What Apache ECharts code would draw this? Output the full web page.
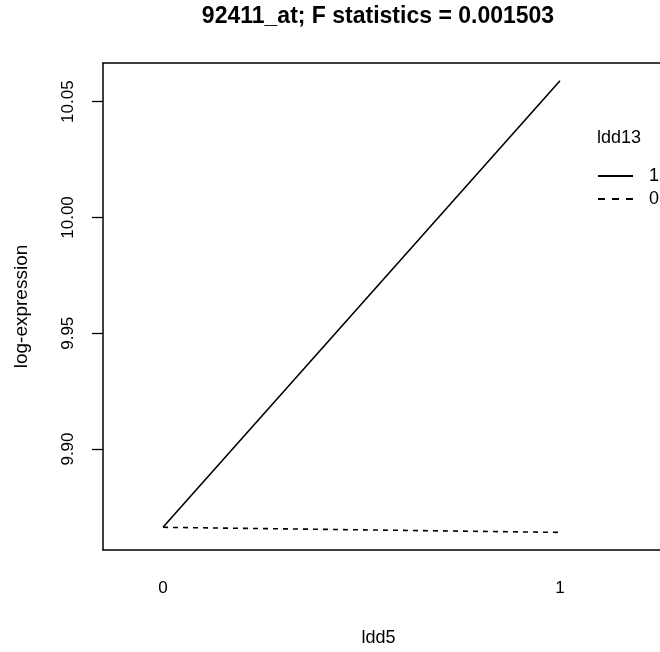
<!DOCTYPE html>
<html>
<head>
<meta charset="utf-8">
<script src="https://cdn.jsdelivr.net/npm/echarts@6/dist/echarts.min.js"></script>
<style>
  html, body { margin: 0; padding: 0; background: #fff; }
  #main { width: 660px; height: 652px; }
</style>
</head>
<body>
<div id="main"></div>
<script>
// ldd5 levels on x (plotted at positions 1, 2 like R's interaction.plot)
var ldd5Levels = ['0', '1'];
var seriesNames = ['1', '0'];
var exprLdd13_1 = [9.8662, 10.0590];
var exprLdd13_0 = [9.8662, 9.8640];
var yTicks = [9.90, 9.95, 10.00, 10.05];
var xTicks = [1, 2];

function pairs(ys) {
  var out = [];
  for (var i = 0; i < ys.length; i++) out.push([i + 1, ys[i]]);
  return out;
}

var font = '"Liberation Sans", Arial, sans-serif';
var xMin = 0.8489, xMax = 2.2519;
var yMin = 9.8564, yMax = 10.0667;
var chart = echarts.init(document.getElementById('main'));

chart.setOption({
  backgroundColor: '#fff',
  animation: false,
  title: [
    {
      text: '92411_at; F statistics = 0.001503',
      left: 378, top: 5, padding: 0, textAlign: 'center',
      textStyle: { fontFamily: font, fontSize: 23, fontWeight: 'bold', color: '#000' }
    },
    {
      text: 'ldd13',
      left: 597, top: 129, padding: 0,
      textStyle: { fontFamily: font, fontSize: 18, fontWeight: 'normal', color: '#000' }
    }
  ],
  legend: {
    orient: 'vertical',
    left: 598, top: 167, padding: 0,
    itemWidth: 35, itemHeight: 2, itemGap: 5,
    data: [
      { name: seriesNames[0], icon: 'path://M0,0h35v2h-35z' },
      { name: seriesNames[1], icon: 'path://M0,0h7v2h-7z M14,0h7v2h-7z M28,0h7v2h-7z' }
    ],
    textStyle: { fontFamily: font, fontSize: 18, color: '#000', padding: [0, 0, 0, 11] }
  },
  grid: {
    left: 103, right: 0, top: 63, bottom: 97,
    show: false, containLabel: false
  },
  xAxis: [
    {
      type: 'value', position: 'bottom',
      min: xMin, max: xMax,
      name: 'ldd5', nameLocation: 'middle', nameGap: 79, nameMoveOverlap: false,
      nameTextStyle: { fontFamily: font, fontSize: 18, color: '#000', padding: [0, 6, 0, 0] },
      axisLine: { show: true, lineStyle: { color: '#000', width: 1.5 } },
      axisTick: { show: false },
      splitLine: { show: false },
      axisLabel: {
        customValues: xTicks, margin: 30,
        fontFamily: font, fontSize: 17, color: '#000',
        formatter: function (v) { return ldd5Levels[Math.round(v) - 1]; }
      }
    },
    {
      type: 'value', position: 'top',
      min: xMin, max: xMax,
      axisLine: { show: true, lineStyle: { color: '#000', width: 1.5 } },
      axisTick: { show: false },
      axisLabel: { show: false },
      splitLine: { show: false }
    }
  ],
  yAxis: {
    type: 'value', position: 'left',
    min: yMin, max: yMax,
    name: 'log-expression', nameLocation: 'middle', nameGap: 72, nameMoveOverlap: false,
    nameTextStyle: { fontFamily: font, fontSize: 19, color: '#000' },
    axisLine: { show: true, lineStyle: { color: '#000', width: 1.5 } },
    axisTick: {
      show: true, customValues: yTicks, length: 11,
      lineStyle: { color: '#000', width: 1.3 }
    },
    splitLine: { show: false },
    axisLabel: {
      customValues: yTicks, rotate: 90, margin: 26,
      fontFamily: font, fontSize: 17, color: '#000',
      formatter: function (v) { return v.toFixed(2); }
    }
  },
  series: [
    {
      name: seriesNames[0], type: 'line', symbol: 'none',
      data: pairs(exprLdd13_1),
      lineStyle: { color: '#000', width: 1.6, type: 'solid' },
      itemStyle: { color: '#000' }
    },
    {
      name: seriesNames[1], type: 'line', symbol: 'none',
      data: pairs(exprLdd13_0),
      lineStyle: { color: '#000', width: 1.6, type: [5, 5] },
      itemStyle: { color: '#000' }
    }
  ]
});
</script>
</body>
</html>
